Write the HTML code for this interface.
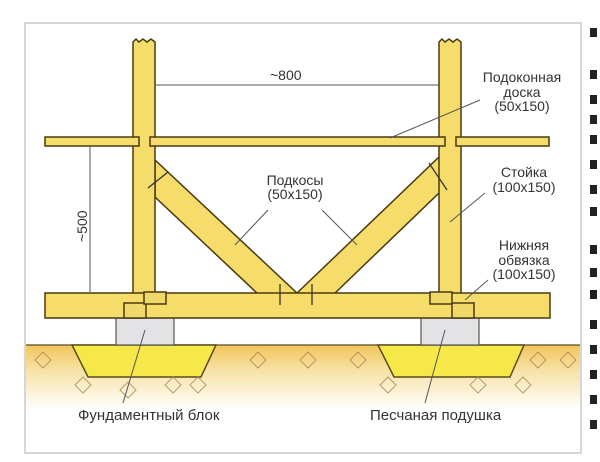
<!DOCTYPE html>
<html><head><meta charset="utf-8"><style>
body{margin:0;background:#fff;}
svg{display:block;font-family:"Liberation Sans",sans-serif;}
</style></head><body>
<svg width="600" height="462" viewBox="0 0 600 462" xmlns="http://www.w3.org/2000/svg">
<defs>
<linearGradient id="g" x1="0" y1="0" x2="0" y2="1">
<stop offset="0" stop-color="#f1c65a"/><stop offset="0.4" stop-color="#f8e2a8"/><stop offset="1" stop-color="#fff"/>
</linearGradient>
</defs>
<rect x="0" y="0" width="600" height="462" fill="#fff"/>
<rect x="25" y="23" width="556" height="430" fill="#fff" stroke="#c8c8c8" stroke-width="1.5"/>
<rect x="26" y="345" width="554" height="65" fill="url(#g)"/>
<line x1="26" y1="345" x2="580" y2="345" stroke="#5a4a20" stroke-width="1.2"/>
<g fill="#f7e84a" stroke="#5a4a20" stroke-width="1.5">
<polygon points="72,345 216,345 201,377 88,377"/>
<polygon points="378,345 524,345 510,377 394,377"/>
</g>
<g fill="none" stroke="#a88850" stroke-width="1" opacity="0.8">
<path d="M35,360 l8,-8 8,8 -8,8z M190,385 l8,-8 8,8 -8,8z M75,385 l8,-8 8,8 -8,8z M120,390 l8,-8 8,8 -8,8z M165,385 l8,-8 8,8 -8,8z M250,360 l8,-8 8,8 -8,8z M300,360 l8,-8 8,8 -8,8z M350,360 l8,-8 8,8 -8,8z M530,360 l8,-8 8,8 -8,8z M560,360 l8,-8 8,8 -8,8z M380,385 l8,-8 8,8 -8,8z M470,385 l8,-8 8,8 -8,8z M515,385 l8,-8 8,8 -8,8z"/>
</g>
<rect x="116" y="318" width="58" height="27" fill="#e3e3e6" stroke="#555" stroke-width="1.2"/>
<rect x="421" y="318" width="58" height="27" fill="#e3e3e6" stroke="#555" stroke-width="1.2"/>
<g fill="#f6dc6a" stroke="#4a3a10" stroke-width="1.5">
<polygon points="155,160 155,197 258,294 298,294"/>
<polygon points="440,156 440,192 334,294 296,294"/>
<path d="M133,42 l3,-3 3,3 4,-3 4,3 4,-3 4,3 0,253 -22,0z"/>
<path d="M439,42 l3,-3 3,3 4,-3 4,3 4,-3 4,3 0,253 -22,0z"/>
<rect x="45" y="137" width="94" height="9"/>
<rect x="150" y="137" width="295" height="9"/>
<rect x="456" y="137" width="93" height="9"/>
<rect x="45" y="293" width="505" height="25"/>
<rect x="124" y="303" width="22" height="15" fill="#f0d86a"/>
<rect x="144" y="292" width="22" height="12" fill="#f0d86a"/>
<rect x="430" y="292" width="22" height="12" fill="#f0d86a"/>
<rect x="452" y="303" width="22" height="15" fill="#f0d86a"/>
</g>
<g stroke="#333" stroke-width="1.3">
<line x1="148" y1="188" x2="168" y2="172"/>
<line x1="429" y1="163" x2="447" y2="190"/>
<line x1="280" y1="284" x2="280" y2="305"/>
<line x1="312" y1="284" x2="312" y2="305"/>
</g>
<g stroke="#555" stroke-width="1" fill="none">
<line x1="155" y1="85" x2="440" y2="85"/>
<line x1="90" y1="146" x2="90" y2="292"/>
<line x1="390" y1="138" x2="480" y2="100"/>
<line x1="235" y1="245" x2="268" y2="210"/>
<line x1="357" y1="245" x2="322" y2="210"/>
<line x1="450" y1="222" x2="485" y2="193"/>
<line x1="465" y1="300" x2="488" y2="280"/>
<line x1="145" y1="330" x2="123" y2="403"/>
<line x1="445" y1="330" x2="425" y2="403"/>
</g>
<g fill="#333" font-size="14">
<text x="270" y="80">~800</text>
<text x="522" y="82" text-anchor="middle">Подоконная</text>
<text x="522" y="97" text-anchor="middle">доска</text>
<text x="522" y="111" text-anchor="middle">(50х150)</text>
<text x="295" y="185" text-anchor="middle">Подкосы</text>
<text x="295" y="199" text-anchor="middle">(50х150)</text>
<text x="524" y="177" text-anchor="middle">Стойка</text>
<text x="524" y="192" text-anchor="middle">(100х150)</text>
<text x="524" y="250" text-anchor="middle">Нижняя</text>
<text x="524" y="265" text-anchor="middle">обвязка</text>
<text x="524" y="279" text-anchor="middle">(100х150)</text>
<text transform="translate(87,242) rotate(-90)">~500</text>
<text x="78" y="420" font-size="15">Фундаментный блок</text>
<text x="370" y="420" font-size="15">Песчаная подушка</text>
</g>
<g fill="#222">
<rect x="590" y="28" width="7" height="9"/>
<rect x="590" y="70" width="7" height="9"/>
<rect x="590" y="95" width="7" height="9"/>
<rect x="590" y="115" width="7" height="9"/>
<rect x="590" y="135" width="7" height="9"/>
<rect x="590" y="160" width="7" height="9"/>
<rect x="590" y="185" width="7" height="9"/>
<rect x="590" y="207" width="7" height="9"/>
<rect x="590" y="245" width="7" height="9"/>
<rect x="590" y="268" width="7" height="9"/>
<rect x="590" y="290" width="7" height="9"/>
<rect x="590" y="320" width="7" height="9"/>
<rect x="590" y="345" width="7" height="9"/>
<rect x="590" y="370" width="7" height="9"/>
<rect x="590" y="395" width="7" height="9"/>
<rect x="590" y="420" width="7" height="9"/>
</g>
</svg>
</body></html>
